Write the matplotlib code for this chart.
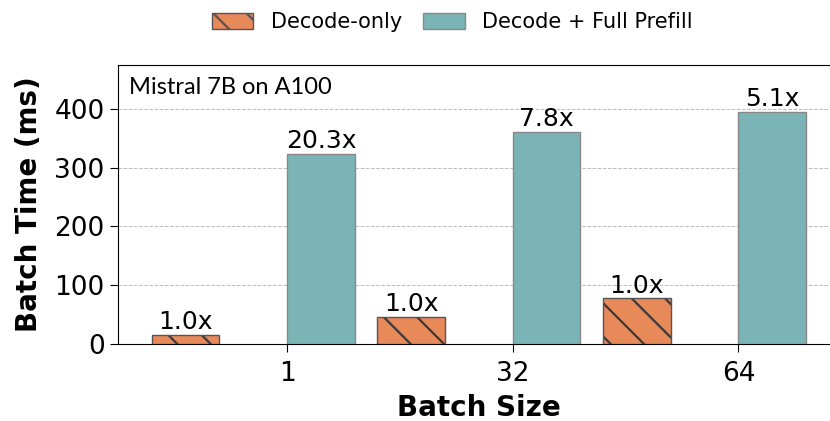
import numpy as np
import matplotlib.pyplot as plt
from matplotlib.patches import Patch

# data
batch_sizes = ['1', '32', '64']
decode_only = [16, 46.5, 78]
decode_prefill = [324, 361, 395]
decode_labels = ['1.0x', '1.0x', '1.0x']
prefill_labels = ['20.3x', '7.8x', '5.1x']

c_decode = '#E8895A'
c_prefill = '#7BB4B6'
w = 0.3

fig = plt.figure(figsize=(8.3, 4.21), dpi=100)
ax = fig.add_axes([0.142, 0.183, 0.87, 0.663])

x = np.arange(len(batch_sizes))
plt.rcParams['hatch.linewidth'] = 1.6
# hatch drawn in dark edge colour, outline on top
b1 = ax.bar(x - 2 * w, decode_only, w, align='edge', color=c_decode,
            edgecolor='#3a3a3a', linewidth=0, hatch='\\', zorder=3)
ax.bar(x - 2 * w, decode_only, w, align='edge', color='none',
       edgecolor='#555555', linewidth=1, zorder=4)
b2 = ax.bar(x, decode_prefill, w, align='edge', color=c_prefill,
            edgecolor='#888888', linewidth=1, zorder=3)

for bars, labs in ((b1, decode_labels), (b2, prefill_labels)):
    for r, t in zip(bars, labs):
        ax.text(r.get_x() + r.get_width() / 2, r.get_height() + 1, t,
                ha='center', va='bottom', fontsize=18)

ax.set_xlim(-0.75, 2.45)
ax.set_ylim(0, 475)
ax.set_yticks([0, 100, 200, 300, 400])
ax.set_xticks(x)
ax.set_xticklabels(batch_sizes)
ax.tick_params(axis='both', labelsize=19, length=6)
ax.tick_params(axis='x', pad=6)
ax.grid(axis='y', linestyle='--', color='#bbbbbb', linewidth=0.7, zorder=0)
ax.spines['right'].set_visible(False)

ax.set_xlabel('Batch Size', fontsize=20, fontweight='bold', labelpad=5)
ax.set_ylabel('Batch Time (ms)', fontsize=20, fontweight='bold', labelpad=8)

ax.text(0.015, 0.955, 'Mistral 7B on A100', transform=ax.transAxes,
        fontsize=17, family='Lato', va='top', ha='left')

handles = [Patch(facecolor=c_decode, edgecolor='#555555', hatch='\\', label='Decode-only'),
           Patch(facecolor=c_prefill, edgecolor='#888888', label='Decode + Full Prefill')]
fig.legend(handles=handles, loc='upper center', bbox_to_anchor=(0.545, 1.015), ncol=2,
           frameon=False, fontsize=15, handlelength=2.0, handleheight=0.8,
           handletextpad=0.85, columnspacing=1.0)

fig.savefig('out.png', dpi=100)
